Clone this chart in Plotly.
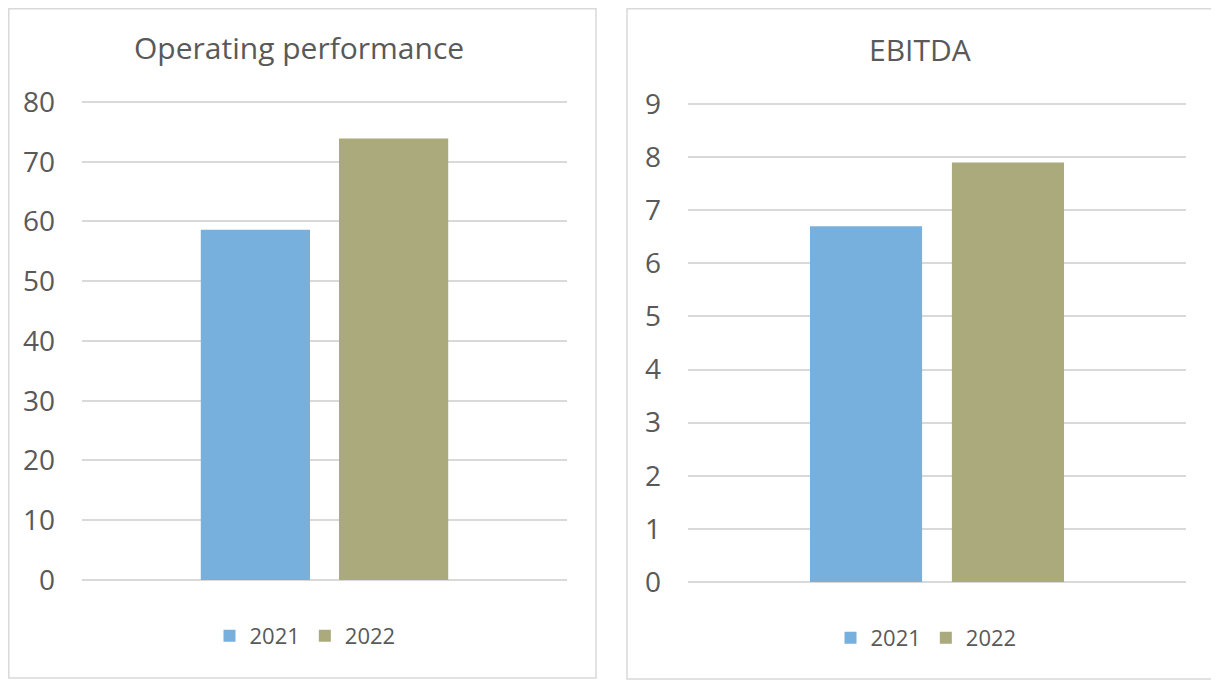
import plotly.graph_objects as go

# The page places the figure 8px in from the top-left corner of the window,
# so the figure is sized to end at the window edge and coordinates are shifted.
OFF = 8
W, H = 1219 - OFF, 683 - OFF

years = ["2021", "2022"]
colors = ["#77B0DD", "#ABAA7C"]
op_title = "Operating performance"
op_values = [58.6, 73.9]
op_ticks = [0, 10, 20, 30, 40, 50, 60, 70, 80]
eb_title = "EBITDA"
eb_values = [6.7, 7.9]
eb_ticks = [0, 1, 2, 3, 4, 5, 6, 7, 8, 9]

FONT = "Open Sans"
GRAY = "#595959"
GRID = "#D9D9D9"

def px(x):
    return (x - OFF) / W

def py(y):
    return 1 - (y - OFF) / H

# small padding so the 0 and top gridlines are drawn inside the plot area
PAD_OP = 0.25      # value units
PAD_EB = 0.03
op_scale = (580 - 102) / 80.0
eb_scale = (582 - 104) / 9.0

fig = go.Figure()

for i, yr in enumerate(years):
    fig.add_trace(go.Bar(x=[""], y=[op_values[i]], name=yr, marker_color=colors[i],
                         xaxis="x", yaxis="y", legend="legend", hoverinfo="y"))
for i, yr in enumerate(years):
    fig.add_trace(go.Bar(x=[""], y=[eb_values[i]], name=yr, marker_color=colors[i],
                         xaxis="x2", yaxis="y2", legend="legend2", hoverinfo="y"))

axis_font = dict(family=FONT, size=28, color=GRAY)

fig.update_layout(
    template="none",
    width=W, height=H,
    margin=dict(l=0, r=0, t=0, b=0, pad=0, autoexpand=False),
    paper_bgcolor="white", plot_bgcolor="white",
    barmode="group", bargap=0.43, bargroupgap=0.21,
    font=dict(family=FONT, color=GRAY),
    xaxis=dict(domain=[px(82), px(567)], showticklabels=False, showgrid=False,
               zeroline=False, showline=False, ticks="", automargin=False),
    yaxis=dict(domain=[py(580 + PAD_OP * op_scale), py(102 - PAD_OP * op_scale)],
               range=[-PAD_OP, 80 + PAD_OP], tickvals=op_ticks,
               showgrid=True, gridcolor=GRID, gridwidth=1.5, zeroline=False,
               showline=False, ticks="", tickfont=axis_font, ticklabelstandoff=26,
               automargin=False),
    xaxis2=dict(domain=[px(688), px(1186)], showticklabels=False, showgrid=False,
                zeroline=False, showline=False, ticks="", anchor="y2", automargin=False),
    yaxis2=dict(domain=[py(582 + PAD_EB * eb_scale), py(104 - PAD_EB * eb_scale)],
                range=[-PAD_EB, 9 + PAD_EB], tickvals=eb_ticks,
                showgrid=True, gridcolor=GRID, gridwidth=1.5, zeroline=False,
                showline=False, ticks="", tickfont=axis_font, ticklabelstandoff=26,
                anchor="x2", automargin=False),
    legend=dict(orientation="h", x=px(305), y=py(636), xanchor="center", yanchor="middle",
                font=dict(family=FONT, size=22, color=GRAY), bgcolor="rgba(0,0,0,0)"),
    legend2=dict(orientation="h", x=px(926), y=py(638), xanchor="center", yanchor="middle",
                 font=dict(family=FONT, size=22, color=GRAY), bgcolor="rgba(0,0,0,0)"),
    shapes=[
        dict(type="rect", xref="paper", yref="paper", x0=px(8.8), x1=px(596), y0=py(678), y1=py(8.8),
             line=dict(color=GRID, width=1.5), layer="below"),
        dict(type="rect", xref="paper", yref="paper", x0=px(627), x1=px(1212), y0=py(679), y1=py(8.8),
             line=dict(color=GRID, width=1.5), layer="below"),
    ],
    annotations=[
        dict(text=op_title, xref="paper", yref="paper", x=px(299), y=py(48), xanchor="center",
             yanchor="middle", showarrow=False, font=dict(family=FONT, size=30, color=GRAY)),
        dict(text=eb_title, xref="paper", yref="paper", x=px(920), y=py(49), xanchor="center",
             yanchor="middle", showarrow=False, font=dict(family=FONT, size=30, color=GRAY)),
    ],
)

fig.write_html("out.html")
